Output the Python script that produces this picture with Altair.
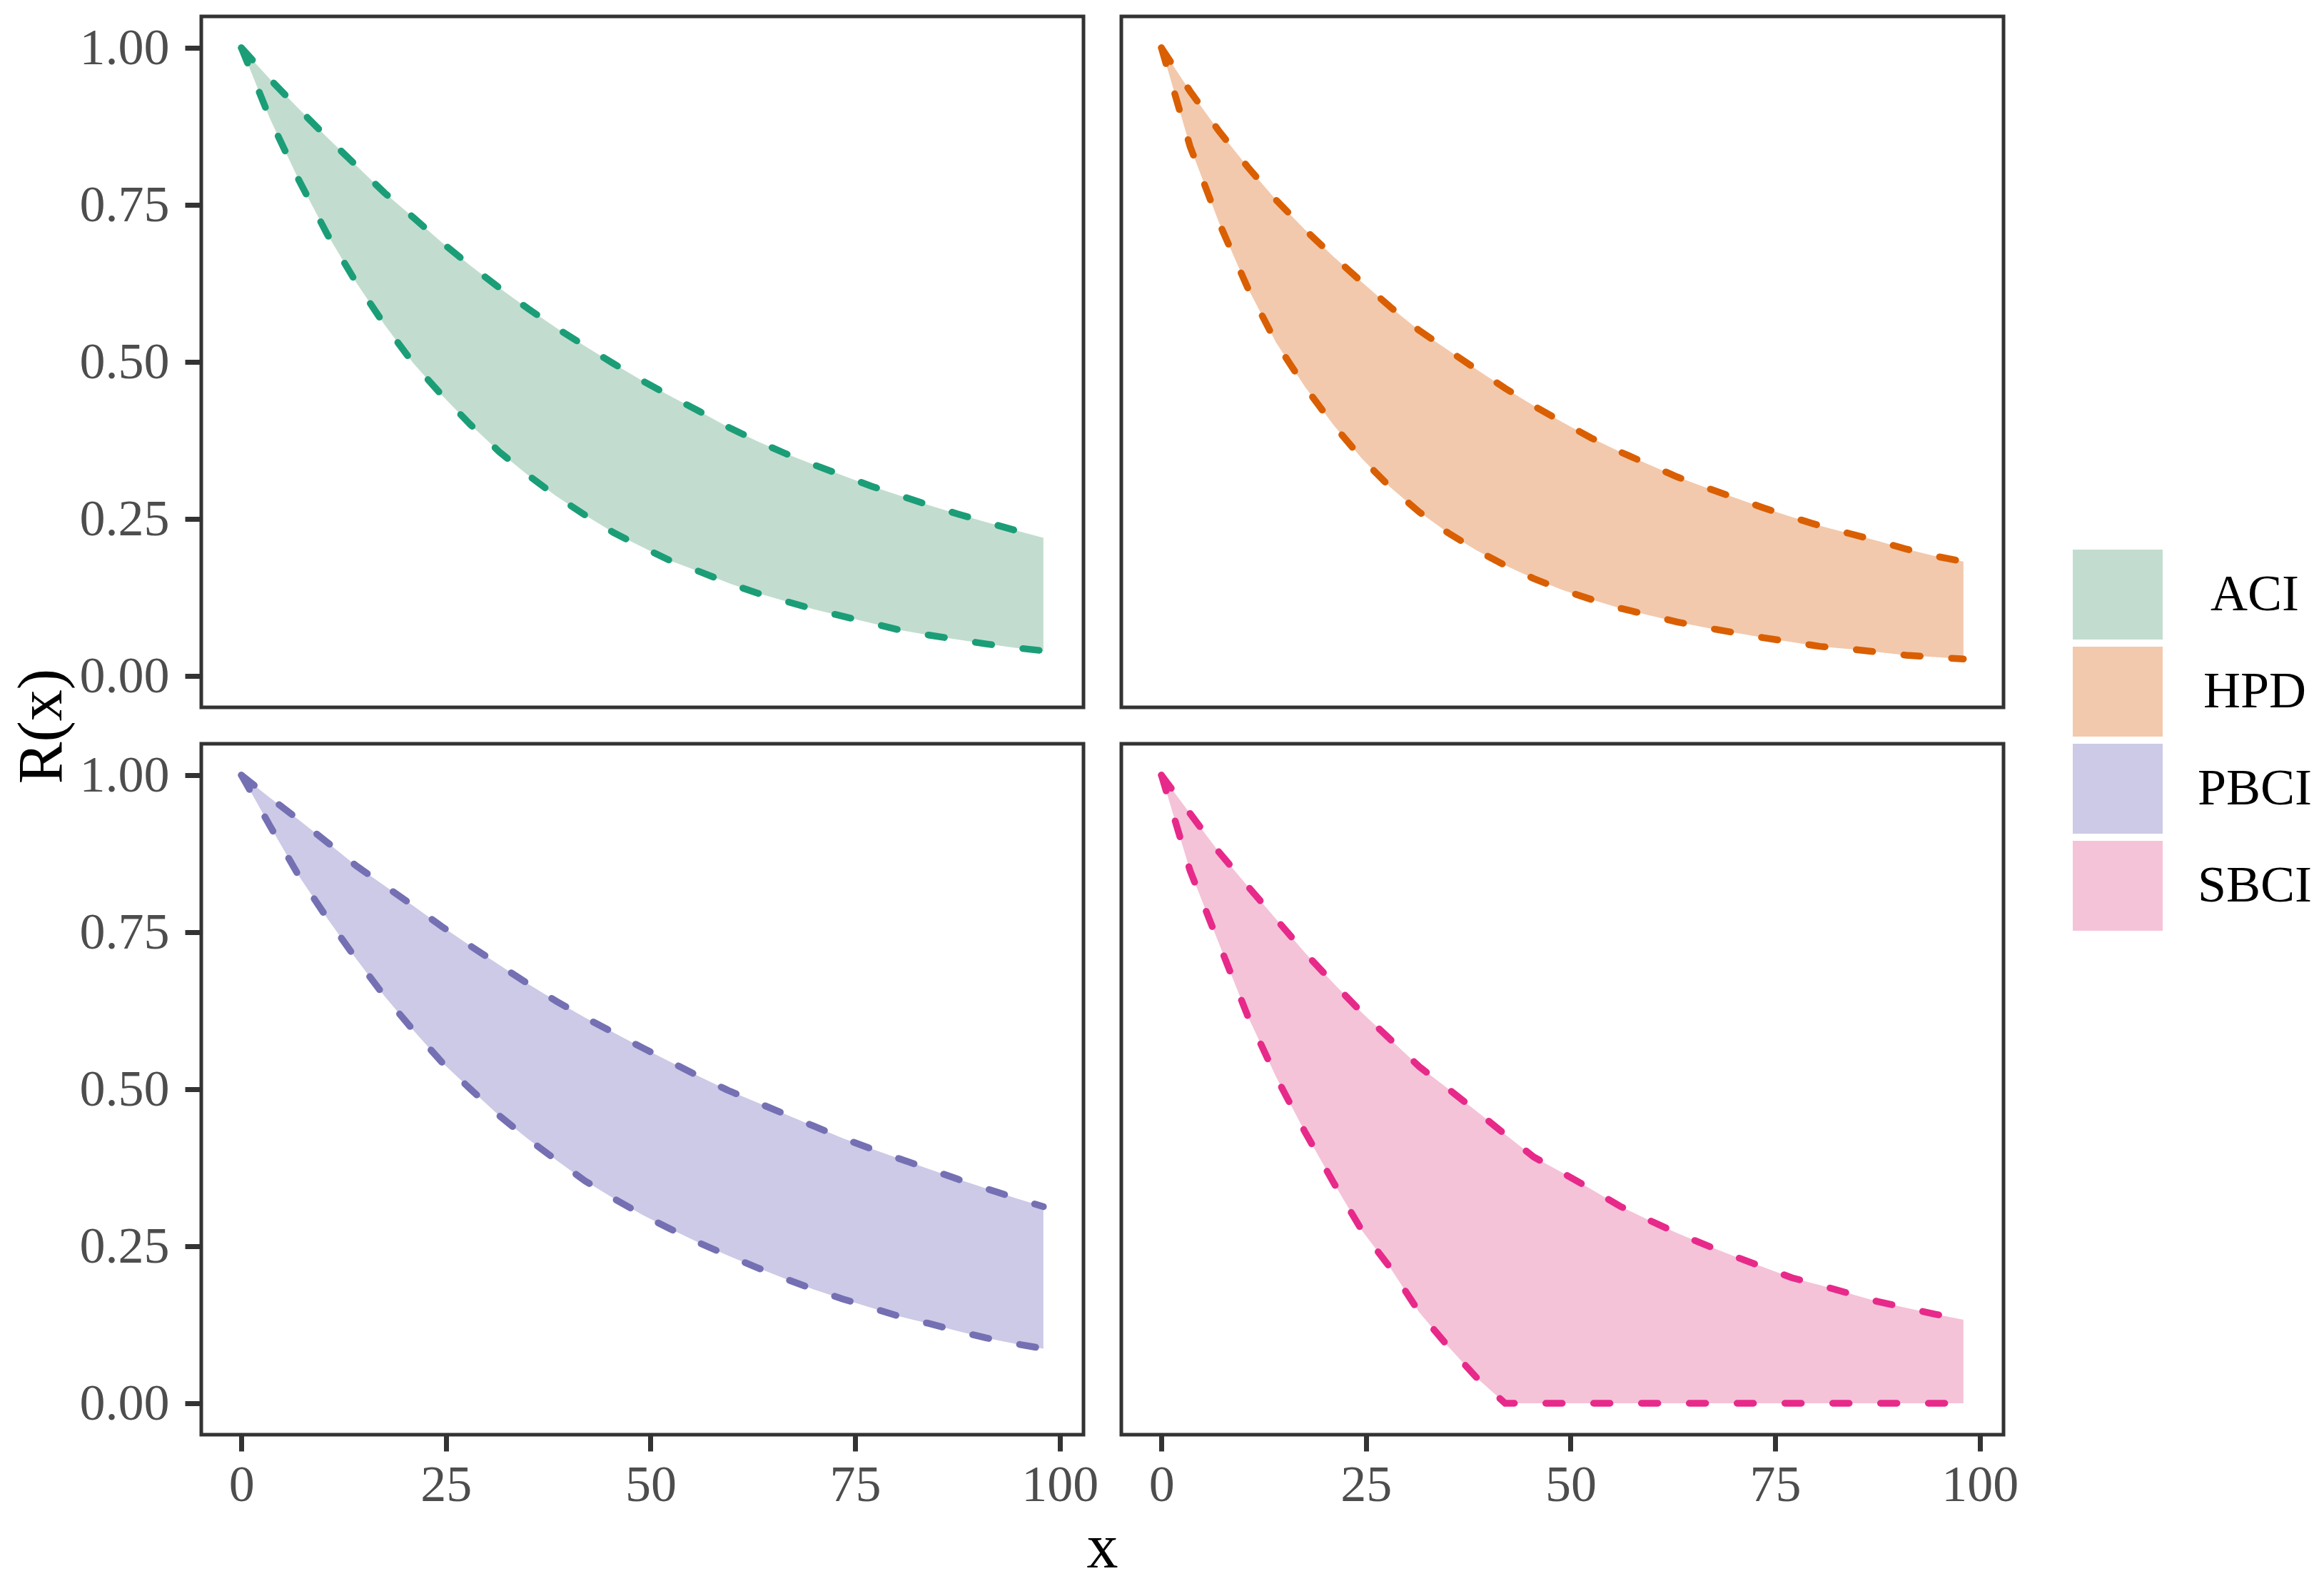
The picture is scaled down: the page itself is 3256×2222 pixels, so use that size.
import altair as alt
import pandas as pd

# x grid shared by all four bands
x_vals = [0, 3.5, 7, 10.5, 14, 17.5, 21, 24.5, 28, 31.5, 35, 38.5, 42, 45.5, 49,
          52.5, 56, 59.5, 63, 66.5, 70, 73.5, 77, 80.5, 84, 87.5, 91, 94.5, 98]

aci_upper = [1.000, 0.950, 0.903, 0.857, 0.813, 0.769, 0.730, 0.690, 0.653, 0.618,
             0.585, 0.554, 0.525, 0.497, 0.470, 0.445, 0.421, 0.396, 0.374, 0.354,
             0.336, 0.319, 0.302, 0.287, 0.272, 0.258, 0.245, 0.232, 0.220]
aci_lower = [1.000, 0.887, 0.790, 0.703, 0.627, 0.559, 0.498, 0.447, 0.400, 0.357,
             0.320, 0.286, 0.256, 0.228, 0.205, 0.183, 0.166, 0.148, 0.132, 0.119,
             0.106, 0.095, 0.084, 0.073, 0.065, 0.058, 0.051, 0.045, 0.040]

hpd_upper = [1.000, 0.931, 0.868, 0.811, 0.758, 0.711, 0.668, 0.627, 0.587, 0.550,
             0.519, 0.488, 0.458, 0.430, 0.404, 0.379, 0.357, 0.337, 0.317, 0.300,
             0.284, 0.268, 0.253, 0.239, 0.227, 0.215, 0.202, 0.191, 0.182]
hpd_lower = [1.000, 0.843, 0.723, 0.619, 0.531, 0.461, 0.400, 0.346, 0.300, 0.261,
             0.228, 0.200, 0.176, 0.155, 0.137, 0.122, 0.108, 0.097, 0.086, 0.077,
             0.069, 0.061, 0.054, 0.047, 0.043, 0.038, 0.033, 0.030, 0.027]

pbci_upper = [1.000, 0.964, 0.929, 0.893, 0.856, 0.824, 0.792, 0.759, 0.728, 0.698,
              0.668, 0.640, 0.614, 0.590, 0.566, 0.543, 0.520, 0.498, 0.479, 0.460,
              0.441, 0.422, 0.405, 0.389, 0.373, 0.357, 0.342, 0.327, 0.313]
pbci_lower = [1.000, 0.919, 0.840, 0.772, 0.708, 0.648, 0.594, 0.543, 0.500, 0.458,
              0.421, 0.387, 0.354, 0.326, 0.300, 0.277, 0.255, 0.235, 0.216, 0.198,
              0.181, 0.166, 0.152, 0.138, 0.127, 0.115, 0.104, 0.095, 0.087]

sbci_upper = [1.000, 0.939, 0.878, 0.824, 0.771, 0.718, 0.669, 0.622, 0.579, 0.536,
              0.501, 0.465, 0.428, 0.392, 0.367, 0.341, 0.314, 0.292, 0.271, 0.252,
              0.234, 0.217, 0.200, 0.188, 0.175, 0.162, 0.152, 0.142, 0.133]
sbci_lower = [1.000, 0.848, 0.733, 0.618, 0.520, 0.433, 0.352, 0.275, 0.215, 0.145,
              0.091, 0.041, 0.000, 0.000, 0.000, 0.000, 0.000, 0.000, 0.000, 0.000,
              0.000, 0.000, 0.000, 0.000, 0.000, 0.000, 0.000, 0.000, 0.000]

methods = ["ACI", "HPD", "PBCI", "SBCI"]
fill_colors = ["#C2DDCF", "#F2C9AD", "#CCCAE6", "#F4C3D8"]
line_colors = ["#1B9E77", "#D95F02", "#7570B3", "#E7298A"]

y_ticks = [0, 0.25, 0.5, 0.75, 1]
x_ticks = [0, 25, 50, 75, 100]

FONT = "Liberation Serif"
W, H = 1236, 968

x_scale = alt.Scale(domain=[-4.9, 102.9], nice=False, zero=False)
y_scale = alt.Scale(domain=[-0.05, 1.05], nice=False, zero=False)

tick_style = dict(
    labelFont=FONT, labelFontSize=72, labelColor="#4D4D4D",
    tickColor="#333333", tickWidth=7, tickSize=23,
    domain=False, grid=False,
    titleFont=FONT, titleFontSize=88, titleFontWeight="normal", titleColor="black",
)

legend = alt.Legend(
    title=None, orient="none", legendX=2622, legendY=747, padding=0,
    symbolType="square", symbolSize=15876, symbolStrokeWidth=0, symbolOpacity=1,
    labelFont=FONT, labelFontSize=72, labelColor="black", labelLimit=400,
    labelAlign="center", labelOffset=129, rowPadding=10,
)


def panel(i, lower, upper, show_x, show_y, x_title=False, y_title=False):
    name = methods[i]
    df = pd.DataFrame({"x": x_vals, "lower": lower, "upper": upper, "method": name})

    if show_x:
        if x_title:
            x_axis = alt.Axis(values=x_ticks, format="d", labelPadding=12, title="x",
                              titleX=W + 26, titleY=185, titleAlign="center",
                              titleBaseline="alphabetic", **tick_style)
        else:
            x_axis = alt.Axis(values=x_ticks, format="d", labelPadding=12, title=None,
                              **tick_style)
    else:
        x_axis = None

    if show_y:
        if y_title:
            y_axis = alt.Axis(values=y_ticks, format=".2f", labelPadding=22, title="R(x)",
                              titleAngle=270, titleX=-197, titleY=H + 26,
                              titleAlign="center", titleBaseline="alphabetic",
                              **tick_style)
        else:
            y_axis = alt.Axis(values=y_ticks, format=".2f", labelPadding=22, title=None,
                              **tick_style)
    else:
        y_axis = None

    X = alt.X("x:Q", scale=x_scale, axis=x_axis)
    base = alt.Chart(df)

    band = base.mark_area(opacity=1).encode(
        x=X,
        y=alt.Y("upper:Q", scale=y_scale, axis=y_axis),
        y2="lower:Q",
        fill=alt.Fill("method:N", scale=alt.Scale(domain=methods, range=fill_colors),
                      legend=legend),
    )
    dash = dict(strokeDash=[23, 44], strokeCap="round", strokeWidth=9.5, color=line_colors[i])
    lo = base.mark_line(**dash).encode(x=X, y=alt.Y("lower:Q", scale=y_scale, axis=y_axis))
    up = base.mark_line(**dash).encode(x=X, y=alt.Y("upper:Q", scale=y_scale, axis=y_axis))
    return alt.layer(band, lo, up).properties(width=W, height=H)


tl = panel(0, aci_lower, aci_upper, show_x=False, show_y=True, y_title=True)
tr = panel(1, hpd_lower, hpd_upper, show_x=False, show_y=False)
bl = panel(2, pbci_lower, pbci_upper, show_x=True, show_y=True, x_title=True)
br = panel(3, sbci_lower, sbci_upper, show_x=True, show_y=False)

chart = alt.concat(
    tl, tr, bl, br, columns=2, spacing={"row": 51, "column": 53}, bounds="flush"
).properties(
    padding={"left": 4, "top": 12, "right": 0, "bottom": 0},
    background="white",
).configure_view(
    stroke="#333333", strokeWidth=5
)

chart.save("out.html", embed_options={"renderer": "svg", "actions": False})
